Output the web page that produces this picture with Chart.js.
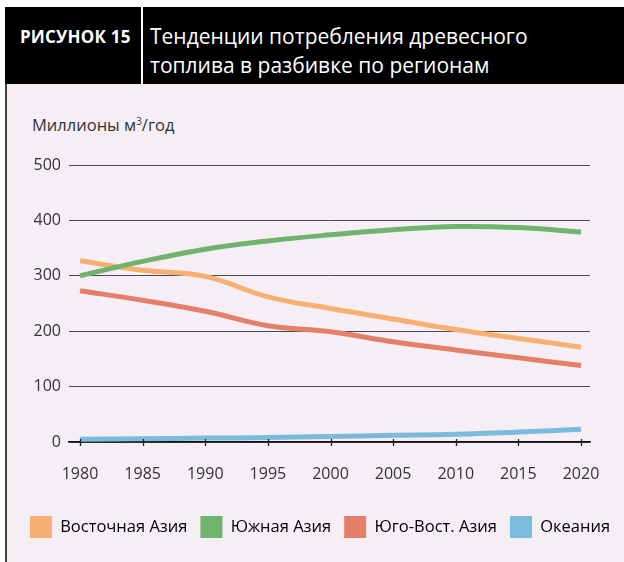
<!DOCTYPE html>
<html>
<head>
<meta charset="utf-8">
<script src="https://cdn.jsdelivr.net/npm/chart.js@4.4.1/dist/chart.umd.min.js"></script>
<style>
  body { margin: 0; width: 624px; height: 562px; overflow: hidden; background: #fff; font-family: "Open Sans", sans-serif; position: relative; }
  .head { position: absolute; left: 5px; top: 7px; width: 619px; height: 77px; background: #000; color: #fff; }
  .head .num { position: absolute; left: 15px; top: 18px; font-weight: 700; font-size: 17px; letter-spacing: 0.2px; }
  .head .sep { position: absolute; left: 136px; top: 0; width: 2px; height: 77px; background: #fff; }
  .head .title { position: absolute; left: 145px; top: 15px; font-size: 21px; line-height: 29px; }
  .panel { position: absolute; left: 5px; top: 84px; width: 619px; height: 478px; background: #f5eef5; border-left: 2px solid #444; box-sizing: border-box; }
  .unit { position: absolute; left: 32px; top: 113px; font-size: 16.5px; color: #333; }
  .unit sup { font-size: 10px; }
  canvas { position: absolute; left: 7px; top: 84px; }
</style>
</head>
<body>
<div class="head">
  <div class="num">РИСУНОК 15</div>
  <div class="sep"></div>
  <div class="title">Тенденции потребления древесного<br>топлива в разбивке по регионам</div>
</div>
<div class="panel"></div>
<div class="unit">Миллионы м<sup>3</sup>/год</div>
<canvas id="chart" width="630" height="478"></canvas>
<script>
  const years = [1980, 1985, 1990, 1995, 2000, 2005, 2010, 2015, 2020];
  const xTicks = [1980, 1985, 1990, 1995, 2000, 2005, 2010, 2015, 2020];
  const yTicks = [0, 100, 200, 300, 400, 500];

  // млн м3 в год
  const eastAsia  = [327, 310, 299, 262, 241, 222, 203, 187, 171];
  const southAsia = [300, 326, 348, 363, 374, 383, 389, 387, 379];
  const seAsia    = [273, 256, 236, 210, 199, 181, 166, 152, 138];
  const oceania   = [5, 6, 7, 8, 10, 12, 14, 18, 23];

  const seriesNames  = ['Восточная Азия', 'Южная Азия', 'Юго-Вост. Азия', 'Океания'];
  const seriesColors = ['#f6b072', '#70b36c', '#e37f6b', '#7bbcdc'];
  const seriesData   = [eastAsia, southAsia, seAsia, oceania];
  const drawOrder    = [2, 1, 3, 0];

  // засечки на оси X, пересекающие линию нуля
  const crossTicks = {
    id: 'crossTicks',
    afterDraw(chart) {
      const sx = chart.scales.x, y0 = chart.scales.y.getPixelForValue(0), ctx = chart.ctx;
      ctx.save();
      ctx.strokeStyle = '#222';
      ctx.lineWidth = 1.3;
      xTicks.forEach(v => {
        const px = Math.round(sx.getPixelForValue(v)) + 0.5;
        ctx.beginPath();
        ctx.moveTo(px, y0 - 3);
        ctx.lineTo(px, y0 + 4);
        ctx.stroke();
      });
      ctx.restore();
    }
  };

  const ctx = document.getElementById('chart').getContext('2d');
  new Chart(ctx, {
    type: 'line',
    data: {
      datasets: seriesNames.map((name, i) => ({
        label: name,
        data: years.map((yr, k) => ({ x: yr, y: seriesData[i][k] })),
        borderColor: seriesColors[i],
        backgroundColor: seriesColors[i],
        borderWidth: 5,
        pointRadius: 0,
        tension: 0.4,
        order: drawOrder[i]
      }))
    },
    options: {
      responsive: false,
      animation: false,
      layout: { padding: { top: 81, left: 0, right: 4, bottom: 14 } },
      scales: {
        x: {
          type: 'linear',
          min: 1979.12,
          max: 2020.72,
          afterBuildTicks: s => { s.ticks = xTicks.map(v => ({ value: v })); },
          afterFit: s => { s.height = 61; },
          grid: { display: false },
          border: { display: true, color: '#111', width: 1.5 },
          ticks: { padding: 15, color: '#333', font: { family: 'Open Sans', size: 16 }, maxRotation: 0,
                   callback: v => String(v) }
        },
        y: {
          min: 0,
          max: 500,
          afterBuildTicks: s => { s.ticks = yTicks.map(v => ({ value: v })); },
          afterFit: s => { s.width = 62; },
          grid: { color: '#4a4a4a', lineWidth: 1, drawTicks: false },
          border: { display: false },
          ticks: { padding: 8, color: '#333', font: { family: 'Open Sans', size: 16 } }
        },
        // пустое поле справа, чтобы легенда встала по центру панели
        pad: {
          type: 'linear',
          position: 'right',
          afterFit: s => { s.width = 43; },
          grid: { display: false },
          border: { display: false },
          ticks: { display: false }
        }
      },
      plugins: {
        legend: {
          position: 'bottom',
          labels: {
            boxWidth: 22,
            boxHeight: 22,
            padding: 13,
            color: '#333',
            font: { family: 'Open Sans', size: 16.5 },
            generateLabels: chart => chart.data.datasets.map((d, i) => ({
              text: d.label, fillStyle: d.borderColor, strokeStyle: d.borderColor, lineWidth: 0, datasetIndex: i
            }))
          }
        },
        tooltip: { enabled: false }
      }
    },
    plugins: [crossTicks]
  });
</script>
</body>
</html>
